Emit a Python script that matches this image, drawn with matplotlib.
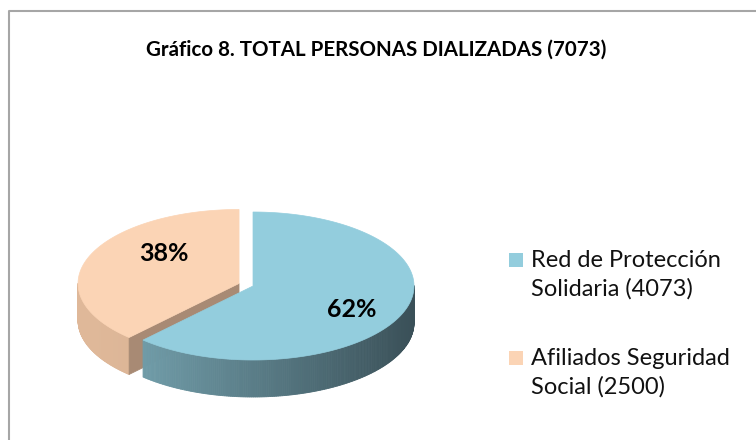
import numpy as np
import matplotlib.pyplot as plt
from matplotlib.patches import Polygon, Rectangle
from matplotlib.colors import to_rgb

# datos del grafico
titulo = "Gráfico 8. TOTAL PERSONAS DIALIZADAS (7073)"
categorias = ["Red de Protección\nSolidaria (4073)", "Afiliados Seguridad\nSocial (2500)"]
valores = [4073, 2500]
etiquetas = ["62%", "38%"]

# estilos
color_sup = ["#93cddd", "#fbd4b5"]
color_lado_claro = ["#7aaab7", "#dfb899"]
color_lado_osc = ["#3a5058", "#c9a689"]
color_corte = ["#5f8690", "#a88a74"]
separar = [0, 15]
pos_etiq = [(0.66, 1.33), (0.5, 2.2)]

plt.rcParams['font.family'] = ['Lato', 'DejaVu Sans']

fig = plt.figure(figsize=(7.56, 4.4), dpi=100)
ax = fig.add_axes([0, 0, 1, 1])
ax.set_xlim(0, 756)
ax.set_ylim(440, 0)
ax.axis('off')

# marco del grafico
ax.plot([9, 9, 756], [440, 11, 11], color="#a6a6a6", lw=1.5, solid_capstyle='butt')

ax.text(376, 50, titulo, ha='center', va='center', fontsize=14.8, fontweight='bold')

cx, cy, rx, ry, prof = 253, 286, 161, 74, 37


def punto(t, x0, y0):
    return x0 + rx * np.cos(t), y0 - ry * np.sin(t)


def mezcla(c1, c2, f):
    a, b = np.array(to_rgb(c1)), np.array(to_rgb(c2))
    return tuple(a + (b - a) * f)


# angulos de cada porcion (sentido horario desde las 12)
total = sum(valores)
rebanadas = []
inicio = 90.0
for v in valores:
    ang = 360.0 * v / total
    rebanadas.append((np.radians(inicio - ang), np.radians(inicio)))
    inicio -= ang

# se dibuja de atras hacia adelante: primero la porcion separada
for i in reversed(range(len(valores))):
    t0, t1 = rebanadas[i]
    mitad = (t0 + t1) / 2
    x0 = cx + separar[i] * np.cos(mitad)
    y0 = cy - separar[i] * np.sin(mitad) * ry / rx

    # pared lateral visible (frente de la elipse)
    ts = np.linspace(t0, t1, 300)
    for a, b in zip(ts[:-1], ts[1:]):
        if np.sin(a) > 0.001 and np.sin(b) > 0.001:
            continue
        xa, ya = punto(a, x0, y0)
        xb, yb = punto(b, x0, y0)
        f = np.clip((xa - (cx - rx)) / (2 * rx), 0, 1)
        c = mezcla(color_lado_claro[i], color_lado_osc[i], f)
        ax.add_patch(Polygon([(xa, ya), (xb, yb), (xb, yb + prof), (xa, ya + prof)],
                             closed=True, facecolor=c, edgecolor=c, lw=0.6))

    # caras de corte que miran hacia el frente
    for t, visible in ((t1, np.cos(t1) < -0.01), (t0, np.cos(t0) > 0.01)):
        if visible:
            xr, yr = punto(t, x0, y0)
            ax.add_patch(Polygon([(x0, y0), (xr, yr), (xr, yr + prof), (x0, y0 + prof)],
                                 closed=True, facecolor=color_corte[i],
                                 edgecolor=color_corte[i], lw=0.5))

    # cara superior
    xs, ys = punto(ts, x0, y0)
    pts = [(x0, y0)] + list(zip(xs, ys))
    ax.add_patch(Polygon(pts, closed=True, facecolor=color_sup[i], edgecolor=color_sup[i], lw=0.5))

    fr, fy = pos_etiq[i]
    lx = x0 + fr * rx * np.cos(mitad)
    ly = y0 - fr * ry * np.sin(mitad) * fy
    ax.text(lx, ly, etiquetas[i], ha='center', va='center', fontsize=18, fontweight='bold')

# leyenda
ley_base = [267, 365]
for i, cat in enumerate(categorias):
    ax.add_patch(Rectangle((509, ley_base[i] - 14), 14, 14, facecolor=color_sup[i], edgecolor='none'))
    for k, linea in enumerate(cat.split("\n")):
        ax.text(531, ley_base[i] + 29 * k, linea, ha='left', va='baseline',
                fontsize=17, color="#111111")

fig.savefig("out.png", dpi=100)
